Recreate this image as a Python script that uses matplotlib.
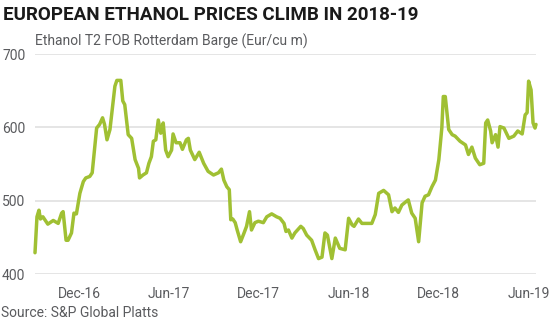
import numpy as np
import pandas as pd
import matplotlib
matplotlib.use("Agg")
import matplotlib.pyplot as plt
import matplotlib.dates as mdates

# Ethanol T2 FOB Rotterdam Barge, Eur/cu m
dates = [
    "2016-09-03", "2016-09-07", "2016-09-11", "2016-09-14", "2016-09-19", "2016-09-29",
    "2016-10-10", "2016-10-20", "2016-10-27", "2016-10-30", "2016-11-05", "2016-11-09",
    "2016-11-16", "2016-11-21", "2016-11-26", "2016-12-03", "2016-12-10", "2016-12-15",
    "2016-12-23", "2016-12-28", "2017-01-01", "2017-01-06", "2017-01-12", "2017-01-18",
    "2017-01-22", "2017-01-27", "2017-02-02", "2017-02-07", "2017-02-12", "2017-02-16",
    "2017-02-24", "2017-02-28", "2017-03-04", "2017-03-11", "2017-03-18", "2017-03-25",
    "2017-04-01", "2017-04-03", "2017-04-10", "2017-04-17", "2017-04-22", "2017-04-27",
    "2017-05-01", "2017-05-06", "2017-05-11", "2017-05-16", "2017-05-21", "2017-05-26",
    "2017-05-31", "2017-06-07", "2017-06-10", "2017-06-16", "2017-06-24", "2017-06-29",
    "2017-07-07", "2017-07-11", "2017-07-15", "2017-07-24", "2017-08-02", "2017-08-11",
    "2017-08-20", "2017-08-31", "2017-09-10", "2017-09-16", "2017-09-21", "2017-09-27",
    "2017-10-02", "2017-10-05", "2017-10-09", "2017-10-14", "2017-10-18", "2017-10-25",
    "2017-11-01", "2017-11-06", "2017-11-12", "2017-11-16", "2017-11-23", "2017-11-30",
    "2017-12-10", "2017-12-17", "2017-12-27", "2018-01-06", "2018-01-13", "2018-01-21",
    "2018-01-25", "2018-01-30", "2018-02-06", "2018-02-12", "2018-02-24", "2018-03-01",
    "2018-03-08", "2018-03-18", "2018-03-25", "2018-04-01", "2018-04-08", "2018-04-14",
    "2018-04-19", "2018-04-28", "2018-05-05", "2018-05-14", "2018-05-25", "2018-06-01",
    "2018-06-08", "2018-06-12", "2018-06-21", "2018-06-28", "2018-07-08", "2018-07-18",
    "2018-07-25", "2018-08-01", "2018-08-11", "2018-08-21", "2018-08-28", "2018-09-03",
    "2018-09-10", "2018-09-17", "2018-09-26", "2018-09-30", "2018-10-07", "2018-10-14",
    "2018-10-21", "2018-10-28", "2018-11-03", "2018-11-10", "2018-11-17", "2018-11-24",
    "2018-12-01", "2018-12-07", "2018-12-10", "2018-12-14", "2018-12-21", "2018-12-28",
    "2019-01-03", "2019-01-13", "2019-01-24", "2019-01-30", "2019-02-06", "2019-02-13",
    "2019-02-22", "2019-03-02", "2019-03-06", "2019-03-10", "2019-03-16", "2019-03-19",
    "2019-03-26", "2019-03-31", "2019-04-04", "2019-04-12", "2019-04-22", "2019-05-02",
    "2019-05-10", "2019-05-19", "2019-05-25", "2019-05-29", "2019-06-01", "2019-06-06",
    "2019-06-10", "2019-06-14", "2019-06-16",
]
prices = [
    429, 478, 487, 475, 478, 468,
    473, 469, 483, 485, 446, 446,
    456, 483, 482, 510, 526, 531,
    533, 538, 565, 599, 604, 613,
    604, 583, 597, 626, 656, 664,
    664, 636, 631, 590, 585, 556,
    544, 531, 535, 538, 551, 560,
    581, 583, 610, 592, 606, 569,
    560, 569, 591, 579, 579, 570,
    583, 585, 569, 556, 566, 551,
    540, 535, 538, 543, 528, 519,
    515, 474, 475, 470, 460, 444,
    456, 465, 485, 460, 470, 472,
    470, 478, 482, 478, 476, 469,
    458, 460, 449, 456, 465, 462,
    453, 446, 433, 421, 423, 456,
    453, 421, 449, 435, 433, 476,
    467, 465, 475, 469, 469, 469,
    481, 510, 514, 508, 485, 490,
    484, 494, 499, 501, 483, 476,
    444, 497, 506, 508, 519, 528,
    556, 599, 642, 642, 597, 590,
    588, 581, 576, 563, 573, 558,
    549, 551, 606, 610, 595, 579,
    590, 573, 601, 599, 585, 588,
    595, 591, 617, 620, 663, 651,
    606, 599, 604,
]

tick_dates = ["2016-12-01", "2017-06-01", "2017-12-01", "2018-06-01", "2018-12-01", "2019-06-01"]
tick_labels = ["Dec-16", "Jun-17", "Dec-17", "Jun-18", "Dec-18", "Jun-19"]
y_ticks = [400, 500, 600, 700]

font = ["Roboto", "DejaVu Sans"]
grey = "#5a5b5e"

fig = plt.figure(figsize=(5.6, 3.25), dpi=100)
ax = fig.add_axes([35 / 560, 1 - 274 / 325, 501 / 560, 220 / 325])

x = pd.to_datetime(dates)
ax.plot(x, prices, color="#a0c033", lw=2.5, solid_capstyle="round", clip_on=False, zorder=3)

ax.set_ylim(400, 700)
ax.set_xlim(x[0], x[-1])
ax.set_yticks(y_ticks)
ax.set_yticklabels([str(v) for v in y_ticks], family=font, fontsize=10, color=grey)
ax.set_xticks(pd.to_datetime(tick_dates))
ax.set_xticklabels(tick_labels, family=font, fontsize=10, color=grey)
ax.tick_params(axis="both", length=0)
ax.tick_params(axis="y", pad=7)
ax.tick_params(axis="x", pad=9)
for lbl in ax.get_yticklabels():
    lbl.set_horizontalalignment("right")

ax.grid(axis="y", color="#e3e3e3", lw=1.3)
ax.set_axisbelow(True)
for s in ax.spines.values():
    s.set_visible(False)

fig.text(3 / 560, 1 - 20 / 325, "EUROPEAN ETHANOL PRICES CLIMB IN 2018-19",
         family=font, fontsize=13.5, fontweight="bold", color="#1a1a1a", va="baseline")
fig.text(35 / 560, 1 - 46 / 325, "Ethanol T2 FOB Rotterdam Barge (Eur/cu m)",
         family=font, fontsize=10, color=grey, va="baseline")
fig.text(1 / 560, 1 - 317 / 325, "Source: S&P Global Platts",
         family=font, fontsize=10, color=grey, va="baseline")

fig.savefig("out.png", dpi=100)
